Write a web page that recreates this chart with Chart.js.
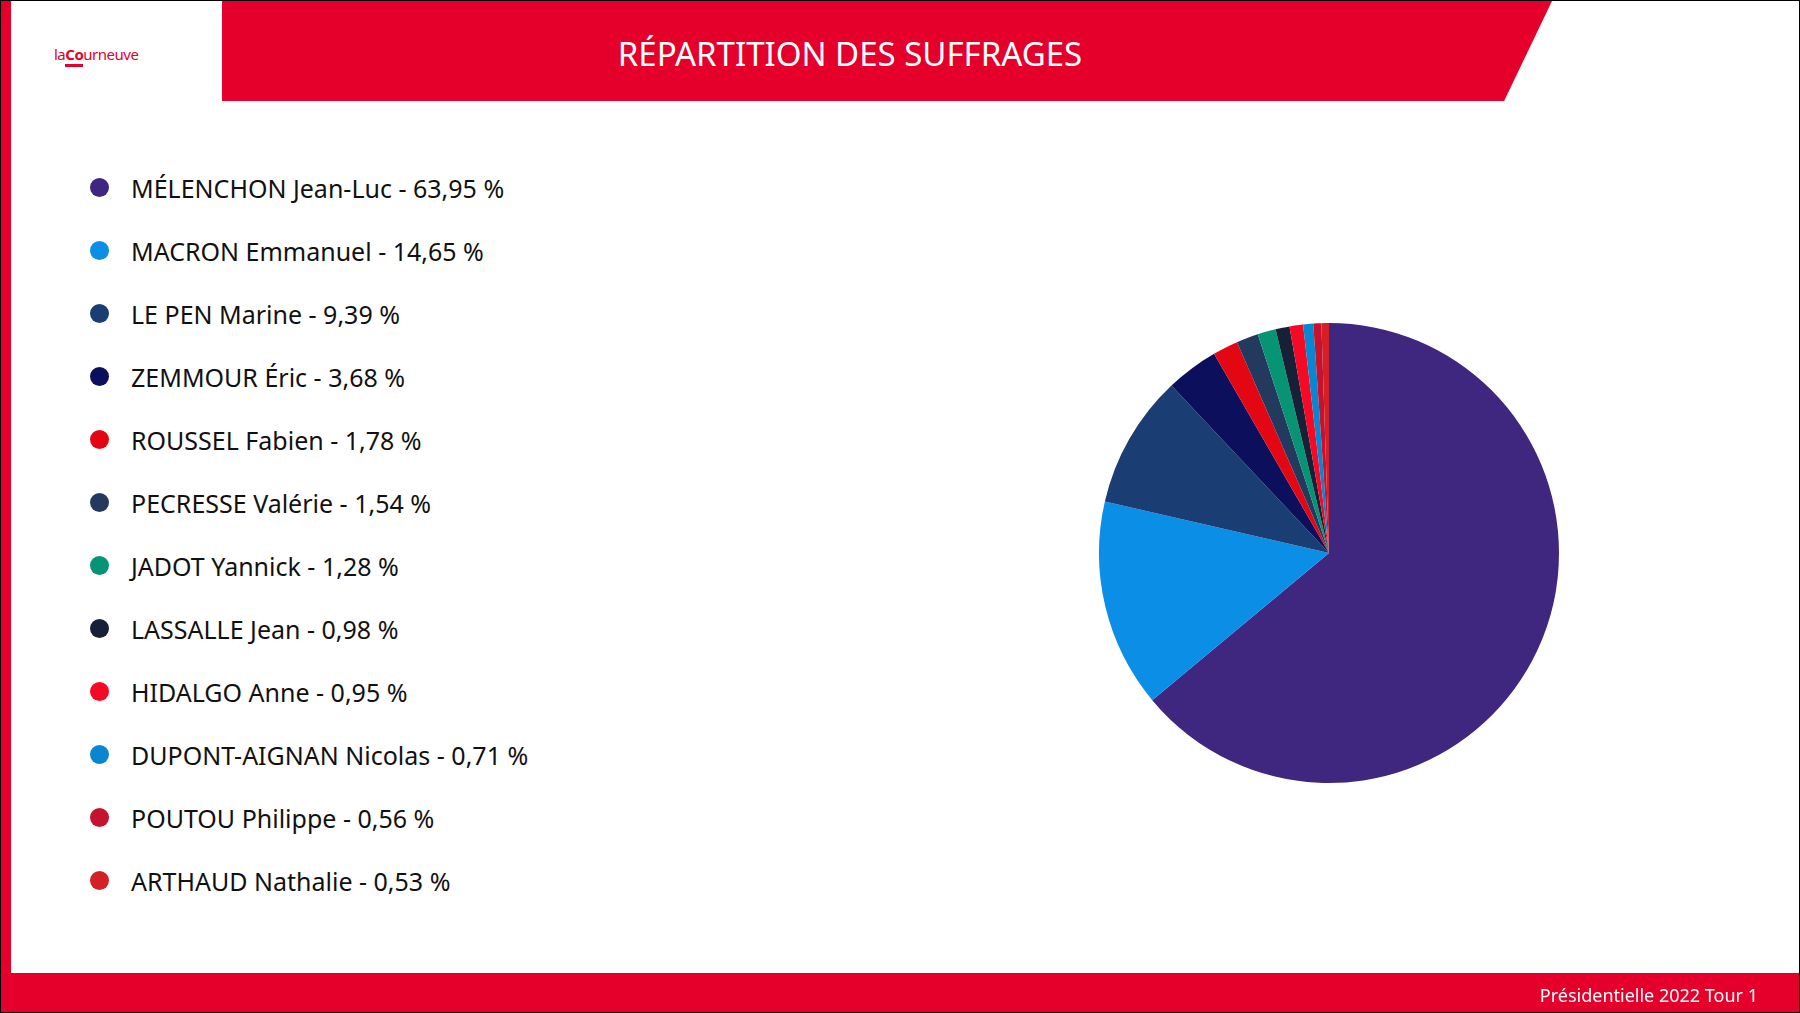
<!DOCTYPE html>
<html><head><meta charset="utf-8">
<script src="https://cdn.jsdelivr.net/npm/chart.js@4"></script>
<style>
body{margin:0;width:1800px;height:1013px;overflow:hidden;font-family:"Noto Sans",sans-serif;background:#fff;position:relative}
#frame{position:absolute;inset:0;border:1px solid #000;box-sizing:border-box}
#lbar{position:absolute;left:1px;top:1px;width:10px;height:1011px;background:#e4002b}
#head{position:absolute;left:222px;top:1px;width:1330px;height:100px;background:#e4002b;clip-path:polygon(0 0,100% 0,96.4% 100%,0 100%)}
#title{position:absolute;left:222px;top:4px;width:1256px;height:100px;line-height:100px;text-align:center;color:#fff;font-size:33px}
#logo{position:absolute;left:54px;top:44px;color:#e4002b;font-size:15px;letter-spacing:-0.5px}
#logo b{border-bottom:3px solid #e4002b}
#foot{position:absolute;left:1px;top:973px;width:1798px;height:39px;background:#e4002b}
#foottxt{position:absolute;right:42px;top:983px;color:#fff;font-size:18px}
#legend{position:absolute;left:90px;top:156px;font-size:25px;color:#111}
#legend div{height:63px;display:flex;align-items:center}
#legend span{display:inline-block;width:19px;height:19px;border-radius:50%;margin-right:22px}
#wrap{position:absolute;left:1079px;top:303px;width:500px;height:500px}
</style></head><body>
<div id="lbar"></div>
<div id="head"></div><div id="title">RÉPARTITION DES SUFFRAGES</div>
<div id="logo">la<b>Co</b>urneuve</div>
<div id="legend"></div>
<div id="wrap"><canvas id="pie"></canvas></div>
<div id="foot"></div><div id="foottxt">Présidentielle 2022 Tour 1</div>
<div id="frame"></div>
<script>
const candidates = ['MÉLENCHON Jean-Luc','MACRON Emmanuel','LE PEN Marine','ZEMMOUR Éric','ROUSSEL Fabien','PECRESSE Valérie','JADOT Yannick','LASSALLE Jean','HIDALGO Anne','DUPONT-AIGNAN Nicolas','POUTOU Philippe','ARTHAUD Nathalie'];
const shares = [63.95,14.65,9.39,3.68,1.78,1.54,1.28,0.98,0.95,0.71,0.56,0.53];
const colors = ['#3f267f','#0a8ee6','#1a3e74','#0c0f5c','#e30613','#233a5e','#079474','#162036','#f50a26','#0a86d0','#c4122f','#d41f26'];

const legendEl = document.getElementById('legend');
candidates.forEach((c, i) => {
    const d = document.createElement('div');
    d.innerHTML = `<span style="background:${colors[i]}"></span>${c} - ${shares[i].toFixed(2).replace('.', ',')} %`;
    legendEl.appendChild(d);
});

new Chart(document.getElementById('pie'), {
    type: 'pie',
    data: { labels: candidates, datasets: [{ data: shares, backgroundColor: colors, borderWidth: 0 }] },
    options: {
        responsive: true, maintainAspectRatio: false, animation: false,
        layout: { padding: 20 },
        plugins: { legend: { display: false }, tooltip: { enabled: false } }
    }
});
</script>
</body></html>
